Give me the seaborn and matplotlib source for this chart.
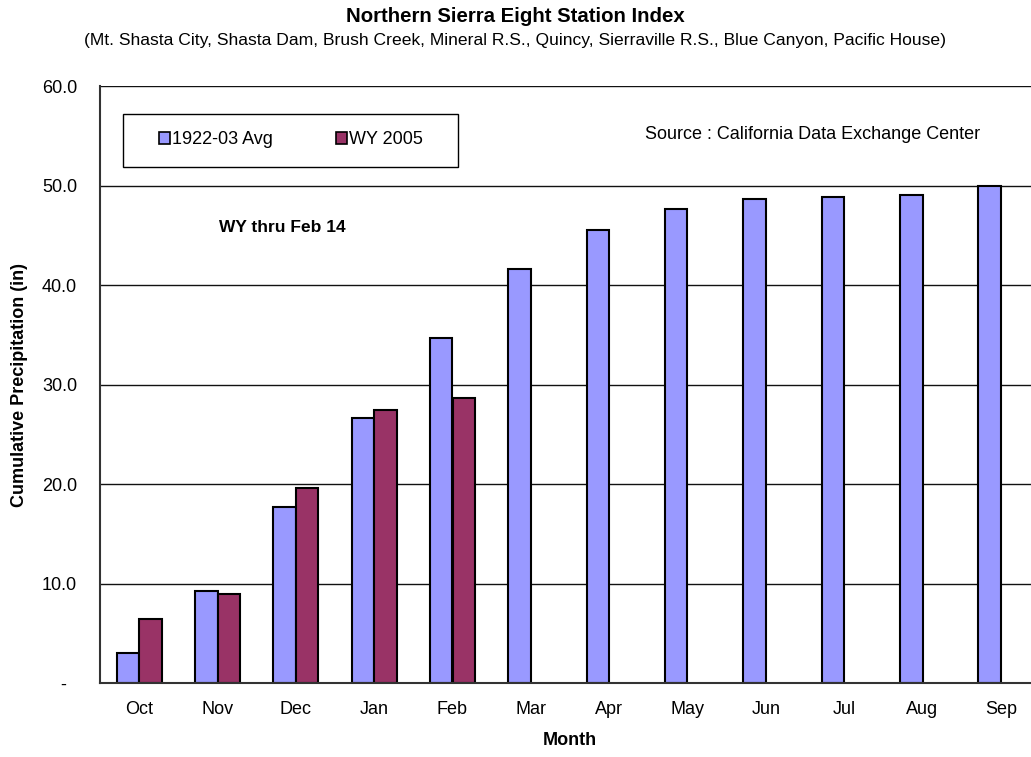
import numpy as np
import pandas as pd
import matplotlib
matplotlib.use('Agg')
import matplotlib.pyplot as plt
from matplotlib.patches import Rectangle
import seaborn as sns

# data
months = ['Oct', 'Nov', 'Dec', 'Jan', 'Feb', 'Mar', 'Apr', 'May', 'Jun', 'Jul', 'Aug', 'Sep']
avg_1922_03 = [3.0, 9.3, 17.7, 26.7, 34.7, 41.6, 45.5, 47.6, 48.6, 48.8, 49.1, 50.0]
wy_2005 = [6.5, 9.0, 19.6, 27.5, 28.7]
series_names = ['1922-03 Avg', 'WY 2005']
colors = ['#9999FF', '#993366']

# long form table for seaborn
wy_full = wy_2005 + [np.nan] * (len(months) - len(wy_2005))
df = pd.DataFrame({
    'month': months * 2,
    'precip': avg_1922_03 + wy_full,
    'series': [series_names[0]] * len(months) + [series_names[1]] * len(months),
})

sns.set_style('white')
plt.rcParams['font.family'] = ['Liberation Sans', 'DejaVu Sans']
plt.rcParams['text.color'] = 'black'
plt.rcParams['axes.labelcolor'] = 'black'
plt.rcParams['xtick.color'] = 'black'
plt.rcParams['ytick.color'] = 'black'

fig = plt.figure(figsize=(10.31, 7.57), dpi=100)
# plot area runs a bit past the right edge, like the original
ax = fig.add_axes([100 / 1031, 73.7 / 757, 940 / 1031, 597.3 / 757])

sns.barplot(data=df, x='month', y='precip', hue='series', order=months,
            hue_order=series_names, palette=colors, width=0.575, saturation=1,
            edgecolor='black', linewidth=1.5, ax=ax)

ax.set_xlim(-0.5, 11.5)
ax.set_ylim(0, 60)
ax.set_yticks(np.arange(0, 61, 10))
ax.set_yticklabels(['-  ' if v == 0 else f'{v:.1f}' for v in np.arange(0, 61, 10)])
ax.yaxis.grid(True, color='#111111', linewidth=1)
ax.set_axisbelow(True)

# tick marks between the months, labels in the middle
ax.set_xticks(np.arange(-0.5, 12, 1), minor=True)
ax.tick_params(axis='x', which='major', length=0, labelsize=13, pad=13)
ax.tick_params(axis='x', which='minor', length=6, width=1, color='#333333', direction='out')
ax.tick_params(axis='y', length=10, width=1, color='#333333', direction='inout',
               labelsize=13, pad=11.5)

for s in ['top', 'right']:
    ax.spines[s].set_visible(False)
ax.spines['left'].set_color('#333333')
ax.spines['left'].set_linewidth(1.5)
ax.spines['bottom'].set_color('#333333')
ax.spines['bottom'].set_linewidth(1.5)

ax.set_xlabel('Month', fontsize=13, fontweight='bold', labelpad=10)
ax.set_ylabel('Cumulative Precipitation (in)', fontsize=13, fontweight='bold', labelpad=10)

# legend box
ax.add_patch(Rectangle((0.02447, 0.8644), 0.3564, 0.0887, transform=ax.transAxes,
                       facecolor='white', edgecolor='black', linewidth=1.0, zorder=4,
                       clip_on=False))
leg = ax.legend(loc='center', bbox_to_anchor=(0.2032, 0.9096), ncol=2, fontsize=13,
                frameon=False, borderaxespad=0, borderpad=0,
                handlelength=0.6, handleheight=0.6, handletextpad=0.12, columnspacing=3.5)
leg.set_zorder(6)
for h in leg.legend_handles:
    h.set_edgecolor('black')
    h.set_linewidth(1.2)

ax.text(0.758, 0.918, 'Source : California Data Exchange Center', transform=ax.transAxes,
        ha='center', va='center', fontsize=13)
ax.text(0.1936, 0.7625, 'WY thru Feb 14', transform=ax.transAxes,
        ha='center', va='center', fontsize=12.5, fontweight='bold')

fig.text(0.5, 1 - 16 / 757, 'Northern Sierra Eight Station Index', ha='center', va='center',
         fontsize=14.7, fontweight='bold')
fig.text(0.5, 1 - 41 / 757,
         '(Mt. Shasta City, Shasta Dam, Brush Creek, Mineral R.S., Quincy, Sierraville R.S., Blue Canyon, Pacific House)',
         ha='center', va='center', fontsize=12.6)

fig.savefig('out.png', dpi=100)
